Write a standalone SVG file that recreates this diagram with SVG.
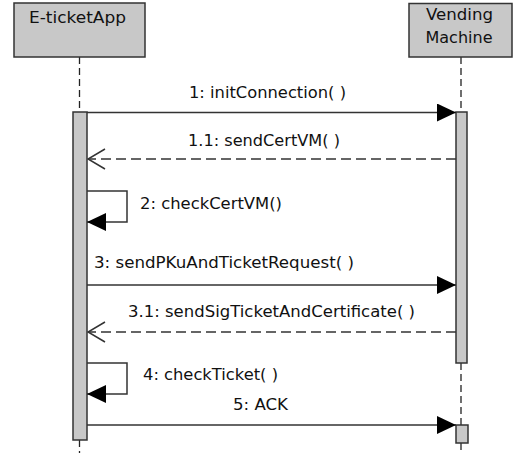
<svg xmlns="http://www.w3.org/2000/svg" width="517" height="453" viewBox="0 0 517 453">
<style>
.box{fill:#c8c8c8;stroke:#333;stroke-width:1.5}
.life{stroke:#222;stroke-width:1.3;stroke-dasharray:7 4;fill:none}
.msg{stroke:#333;stroke-width:1.5;fill:none}
.ret{stroke:#333;stroke-width:1.5;fill:none;stroke-dasharray:10 5}
.t{font-family:"DejaVu Sans","Liberation Sans",sans-serif;font-size:15px;fill:#111}
</style>
<defs>
<marker id="fill" markerWidth="20" markerHeight="18" refX="19" refY="9" orient="auto" markerUnits="userSpaceOnUse">
<path d="M0,0 L19,9 L0,18 Z" fill="#000"/>
</marker>
<marker id="open" markerWidth="20" markerHeight="22" refX="19" refY="11" orient="auto" markerUnits="userSpaceOnUse">
<path d="M2,1 L19,11 L2,21" fill="none" stroke="#333" stroke-width="1.5"/>
</marker>
</defs>
<g id="lifelines">
<line class="life" x1="79.5" y1="57" x2="79.5" y2="112"/>
<line class="life" x1="79.5" y1="440" x2="79.5" y2="453"/>
<line class="life" x1="461" y1="57" x2="461" y2="112"/>
<line class="life" x1="461" y1="363" x2="461" y2="425"/>
<line class="life" x1="461" y1="443" x2="461" y2="453"/>
</g>
<g id="eticketapp">
<rect class="box" x="14" y="3" width="131" height="54"/>
<text class="t" x="29" y="22.5" textLength="97" lengthAdjust="spacingAndGlyphs">E-ticketApp</text>
</g>
<g id="vendingmachine">
<rect class="box" x="409" y="3.5" width="103" height="53.5"/>
<text class="t" x="426" y="19.5" textLength="67" lengthAdjust="spacingAndGlyphs">Vending</text>
<text class="t" x="425.5" y="43" textLength="67" lengthAdjust="spacingAndGlyphs">Machine</text>
</g>
<g id="activation-app">
<rect class="box" x="73" y="112" width="14" height="328"/>
</g>
<g id="activation-vm">
<rect class="box" x="456" y="112" width="11" height="251"/>
<rect class="box" x="456" y="425" width="12" height="18"/>
</g>
<g id="connectors">
<line class="msg" x1="87" y1="112.5" x2="456" y2="112.5" marker-end="url(#fill)"/>
<line class="ret" x1="456" y1="159" x2="88" y2="159" marker-end="url(#open)"/>
<polyline class="msg" points="87,191 127,191 127,222 87,222" marker-end="url(#fill)"/>
<line class="msg" x1="87" y1="285" x2="456" y2="285" marker-end="url(#fill)"/>
<line class="ret" x1="456" y1="332" x2="88" y2="332" marker-end="url(#open)"/>
<polyline class="msg" points="87,363 127,363 127,394 87,394" marker-end="url(#fill)"/>
<line class="msg" x1="87" y1="425" x2="456" y2="425" marker-end="url(#fill)"/>
</g>
<g id="labels">
<text class="t" x="189" y="98" textLength="157" lengthAdjust="spacingAndGlyphs">1: initConnection( )</text>
<text class="t" x="188" y="146" textLength="152" lengthAdjust="spacingAndGlyphs">1.1: sendCertVM( )</text>
<text class="t" x="140" y="209" textLength="142" lengthAdjust="spacingAndGlyphs">2: checkCertVM()</text>
<text class="t" x="94" y="268" textLength="260" lengthAdjust="spacingAndGlyphs">3: sendPKuAndTicketRequest( )</text>
<text class="t" x="128" y="317" textLength="287" lengthAdjust="spacingAndGlyphs">3.1: sendSigTicketAndCertificate( )</text>
<text class="t" x="143" y="380" textLength="135" lengthAdjust="spacingAndGlyphs">4: checkTicket( )</text>
<text class="t" x="233" y="410" textLength="55" lengthAdjust="spacingAndGlyphs">5: ACK</text>
</g>
</svg>
